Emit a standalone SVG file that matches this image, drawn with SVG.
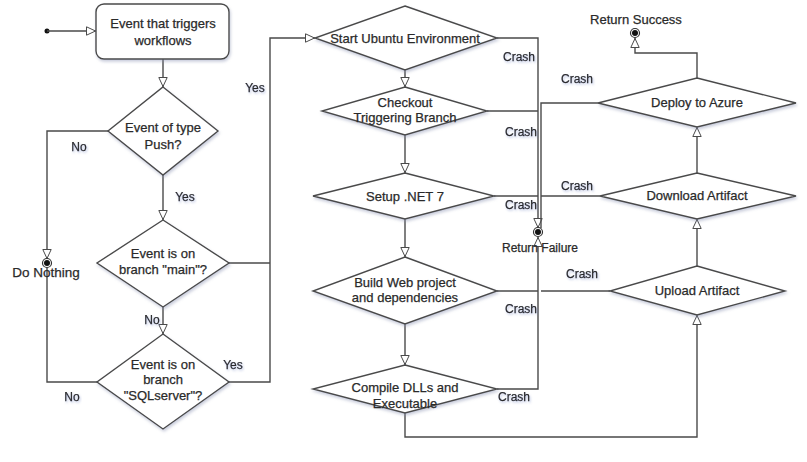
<svg xmlns="http://www.w3.org/2000/svg" width="807" height="462" viewBox="0 0 807 462">
<defs>
<filter id="sh" x="-20%" y="-20%" width="140%" height="150%">
<feDropShadow dx="1" dy="2" stdDeviation="1.5" flood-color="#8890b0" flood-opacity="0.45"/>
</filter>
<filter id="tsh" x="-10%" y="-30%" width="120%" height="180%">
<feDropShadow dx="1" dy="1.5" stdDeviation="0.8" flood-color="#7080c0" flood-opacity="0.45"/>
</filter>
<marker id="arr" viewBox="0 0 10 10" refX="10" refY="5" markerWidth="10" markerHeight="10" orient="auto" markerUnits="userSpaceOnUse">
<path d="M0.5,0.8 L9.5,5 L0.5,9.2 Z" fill="#fff" stroke="#4a4a4a" stroke-width="1"/>
</marker>
</defs>
<style>
.n{fill:#fff;stroke:#4a4a4a;stroke-width:1.4;filter:url(#sh)}
.c{fill:none;stroke:#4a4a4a;stroke-width:1.4}
.t{font-family:"Liberation Sans",Arial,sans-serif;font-size:13px;fill:#2a2a2a;stroke:#2a2a2a;stroke-width:0.25;text-anchor:middle;dominant-baseline:central}
.l{font-family:"Liberation Sans",Arial,sans-serif;font-size:12px;fill:#2a2a2a;stroke:#2a2a2a;stroke-width:0.25;text-anchor:middle;dominant-baseline:central;filter:url(#tsh)}
</style>
<rect width="807" height="462" fill="#fff"/>

<g id="connectors">
<circle cx="47" cy="31" r="2.5" fill="#111"/>
<path class="c" d="M47,31 H96" marker-end="url(#arr)"/>
<path class="c" d="M163,59 V87" marker-end="url(#arr)"/>
<path class="c" d="M108,131 H47 V259" marker-end="url(#arr)"/>
<path class="c" d="M163,175 V220" marker-end="url(#arr)"/>
<path class="c" d="M229,263 H270"/>
<path class="c" d="M163,307 V334" marker-end="url(#arr)"/>
<path class="c" d="M97,382 H47 V267"/>
<path class="c" d="M229,382 H270 V38 H315" marker-end="url(#arr)"/>
<path class="c" d="M405,70 V87" marker-end="url(#arr)"/>
<path class="c" d="M405,135 V173" marker-end="url(#arr)"/>
<path class="c" d="M405,219 V257" marker-end="url(#arr)"/>
<path class="c" d="M405,324 V365" marker-end="url(#arr)"/>
<path class="c" d="M405,413 V437 H697 V315" marker-end="url(#arr)"/>
<path class="c" d="M697,266 V219" marker-end="url(#arr)"/>
<path class="c" d="M697,173 V127" marker-end="url(#arr)"/>
<path class="c" d="M697,78 V53 H635 V38" marker-end="url(#arr)"/>
<path class="c" d="M497,38 H538 V228" marker-end="url(#arr)"/>
<path class="c" d="M487,111 H538"/>
<path class="c" d="M494,196 H538"/>
<path class="c" d="M497,291 H538"/>
<path class="c" d="M497,389 H538 V237" marker-end="url(#arr)"/>
<path class="c" d="M598,103 H541 V228"/>
<path class="c" d="M600,196 H541"/>
<path class="c" d="M610,291 H541"/>
</g>

<g id="start-event">
<rect class="n" x="96" y="4" width="133" height="55" rx="8"/>
<text class="t" x="163" y="23">Event that triggers</text>
<text class="t" x="163" y="40">workflows</text>
</g>

<g id="d-push">
<polygon class="n" points="163,87 218,131 163,175 108,131"/>
<text class="t" x="163" y="127">Event of type</text>
<text class="t" x="163" y="144">Push?</text>
</g>

<g id="d-main">
<polygon class="n" points="163,220 229,263 163,307 97,263"/>
<text class="t" x="163" y="253">Event is on</text>
<text class="t" x="163" y="269">branch "main"?</text>
</g>

<g id="d-sql">
<polygon class="n" points="163,334 229,382 163,429 97,382"/>
<text class="t" x="163" y="364">Event is on</text>
<text class="t" x="163" y="379">branch</text>
<text class="t" x="163" y="395">"SQLserver"?</text>
</g>

<g id="do-nothing">
<circle cx="47" cy="263" r="4.5" fill="#fff" stroke="#333" stroke-width="1.2"/>
<circle cx="47" cy="263" r="3" fill="#111"/>
<text class="t" x="46" y="272" style="font-size:13.5px">Do Nothing</text>
</g>

<g id="start-ubuntu">
<polygon class="n" points="405,6 497,38 405,70 315,38"/>
<text class="t" x="405" y="38">Start Ubuntu Environment</text>
</g>

<g id="checkout">
<polygon class="n" points="405,87 487,111 405,135 322,111"/>
<text class="t" x="405" y="102">Checkout</text>
<text class="t" x="405" y="117">Triggering Branch</text>
</g>

<g id="setup-net">
<polygon class="n" points="405,173 494,196 405,219 313,196"/>
<text class="t" x="405" y="196">Setup .NET 7</text>
</g>

<g id="build-web">
<polygon class="n" points="405,257 497,291 405,324 313,291"/>
<text class="t" x="405" y="282">Build Web project</text>
<text class="t" x="405" y="297">and dependencies</text>
</g>

<g id="compile">
<polygon class="n" points="405,365 497,389 405,413 313,389"/>
<text class="t" x="405" y="387">Compile DLLs and</text>
<text class="t" x="405" y="403">Executable</text>
</g>

<g id="return-failure">
<circle cx="538" cy="232" r="4.5" fill="#fff" stroke="#333" stroke-width="1.2"/>
<circle cx="538" cy="232" r="3" fill="#111"/>
<text class="t" x="540" y="248" style="font-size:12px">Return Failure</text>
</g>

<g id="upload">
<polygon class="n" points="697,266 785,291 697,315 610,291"/>
<text class="t" x="697" y="290">Upload Artifact</text>
</g>

<g id="download">
<polygon class="n" points="697,173 796,196 697,219 600,196"/>
<text class="t" x="697" y="195">Download Artifact</text>
</g>

<g id="deploy">
<polygon class="n" points="697,78 796,103 697,127 598,103"/>
<text class="t" x="697" y="102">Deploy to Azure</text>
</g>

<g id="return-success">
<circle cx="635" cy="33" r="4.5" fill="#fff" stroke="#333" stroke-width="1.2"/>
<circle cx="635" cy="33" r="3" fill="#111"/>
<text class="t" x="636" y="19">Return Success</text>
</g>

<g id="labels">
<text class="l" x="79" y="147">No</text>
<text class="l" x="185" y="197">Yes</text>
<text class="l" x="255" y="88">Yes</text>
<text class="l" x="152" y="320">No</text>
<text class="l" x="233" y="365">Yes</text>
<text class="l" x="72" y="397">No</text>
<text class="l" x="519" y="57">Crash</text>
<text class="l" x="577" y="79">Crash</text>
<text class="l" x="521" y="132">Crash</text>
<text class="l" x="577" y="186">Crash</text>
<text class="l" x="521" y="205">Crash</text>
<text class="l" x="582" y="274">Crash</text>
<text class="l" x="521" y="309">Crash</text>
<text class="l" x="514" y="397">Crash</text>
</g>
</svg>
